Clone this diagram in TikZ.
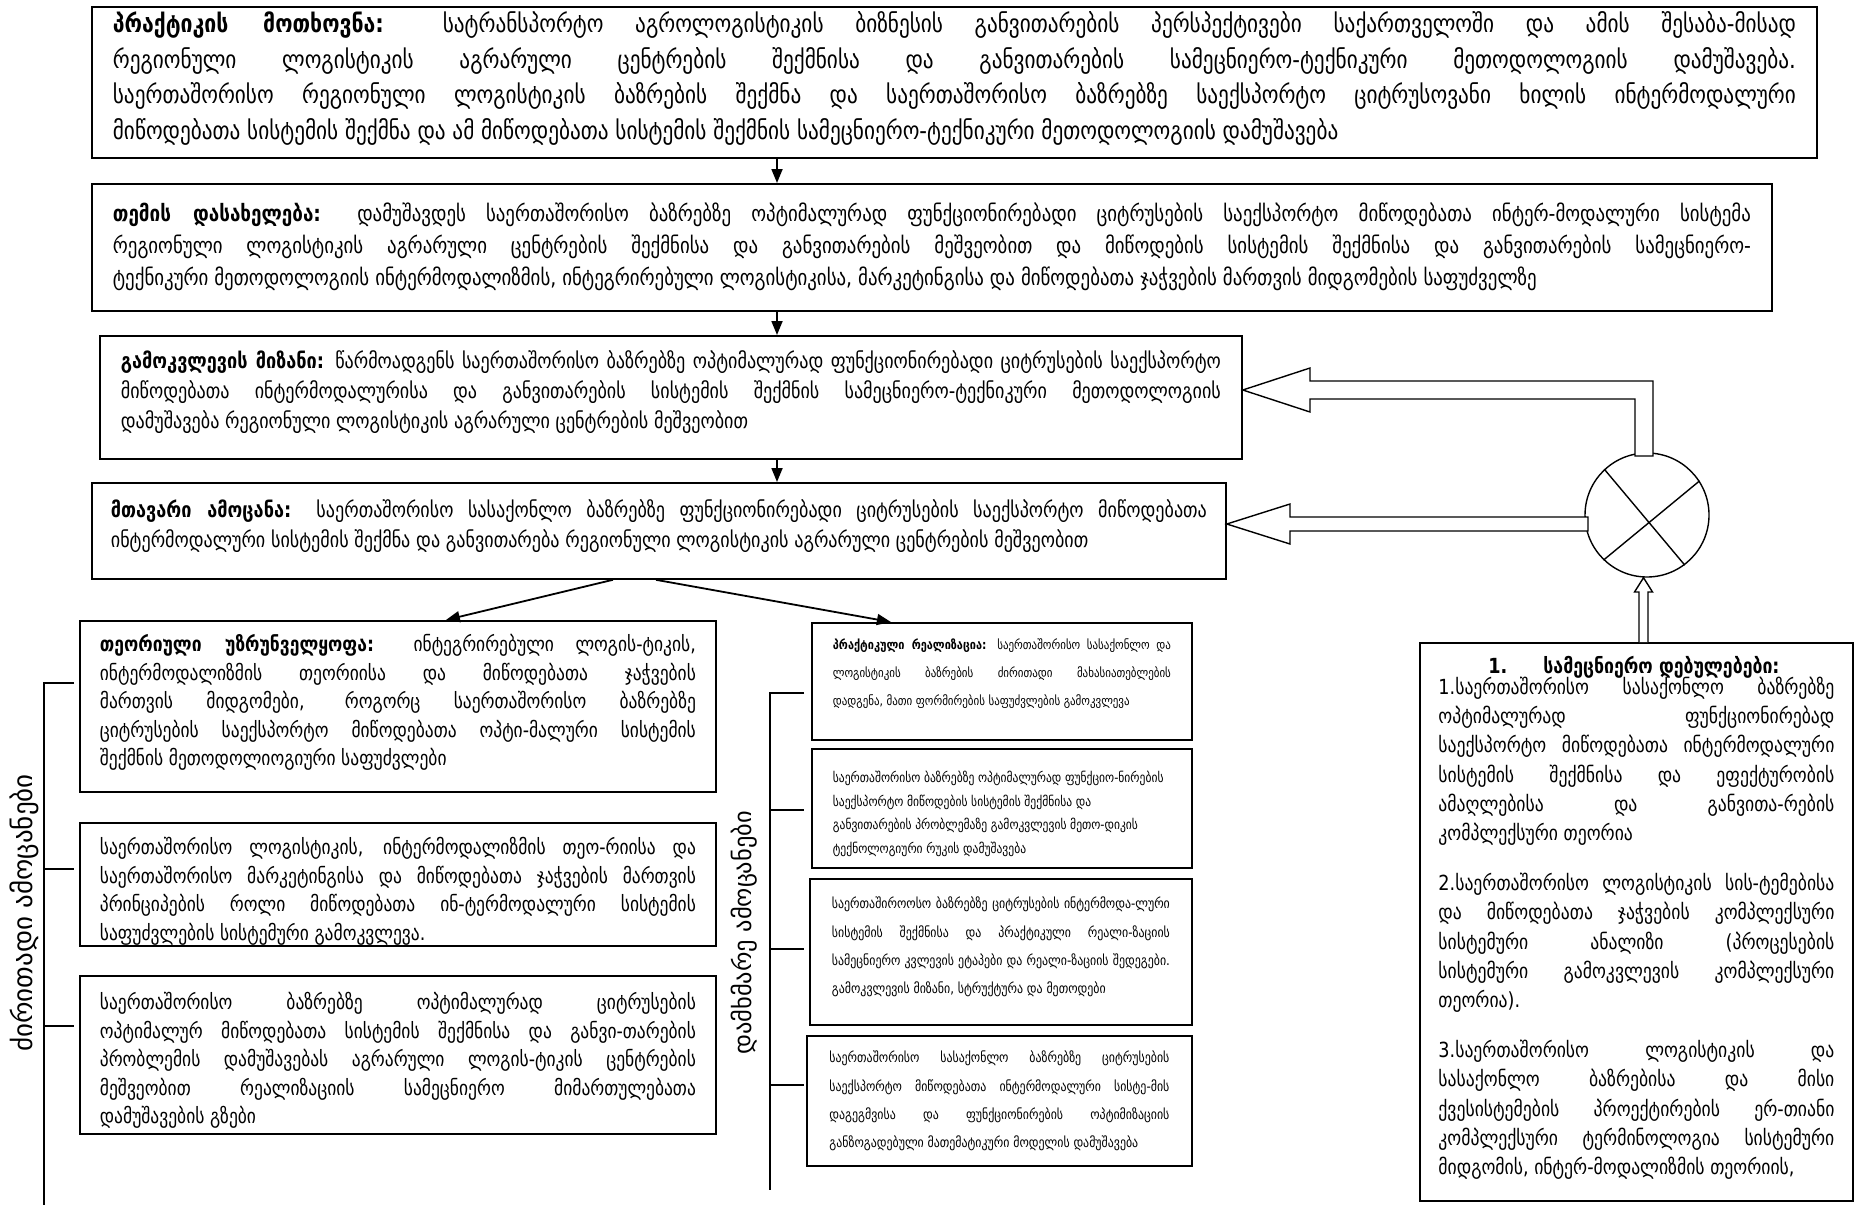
\documentclass[tikz,border=0pt]{standalone}
\usepackage{fontspec}
\setmainfont[FakeStretch=0.85]{DejaVu Sans}
\newfontfamily\sidefont{DejaVu Sans}
\usetikzlibrary{arrows.meta}

\tolerance=10000
\hbadness=10000
\vbadness=10000
\hyphenpenalty=10000
\exhyphenpenalty=10000

% text block of a frame: width, height, text
\newcommand{\boxtext}[3]{\parbox[c][#2][t]{#1}{#3}}
\newcommand{\fsA}{\fontsize{25}{35.5}\selectfont}
\newcommand{\fsB}{\fontsize{22.2}{32}\selectfont}
\newcommand{\fsC}{\fontsize{21.3}{30}\selectfont}
\newcommand{\fsL}{\fontsize{20.6}{28.5}\selectfont}
\newcommand{\fsM}{\fontsize{14}{28.3}\selectfont}
\newcommand{\fsR}{\fontsize{20.8}{29.2}\selectfont}

\begin{document}
\begin{tikzpicture}[x=1pt,y=-1pt,
  frame/.style={draw, line width=1.8pt, anchor=north west},
  arr/.style={line width=1.8pt, -{Triangle[length=14pt,width=11pt]}},
  pipe/.style={draw, line width=1.4pt, fill=white, line join=miter},
  bar/.style={line width=1.8pt}
]
\useasboundingbox (0,0) rectangle (1854,1205);

% main chain
\node[frame, inner xsep=21pt, inner ysep=1pt] (prak) at (91,6) {\boxtext{1683pt}{149pt}{\fsA\strut
\textbf{პრაქტიკის მოთხოვნა:} სატრანსპორტო აგროლოგისტიკის ბიზნესის განვითარების პერსპექტივები საქართველოში და ამის შესაბა-მისად\linebreak
რეგიონული ლოგისტიკის აგრარული ცენტრების შექმნისა და განვითარების სამეცნიერო-ტექნიკური მეთოდოლოგიის დამუშავება.\linebreak
საერთაშორისო რეგიონული ლოგისტიკის ბაზრების შექმნა და საერთაშორისო ბაზრებზე საექსპორტო ციტრუსოვანი ხილის ინტერმოდალური\linebreak
მიწოდებათა სისტემის შექმნა და ამ მიწოდებათა სისტემის შექმნის სამეცნიერო-ტექნიკური მეთოდოლოგიის დამუშავება}};

\node[frame, inner xsep=21pt, inner ysep=15pt] (tema) at (91,183) {\boxtext{1638pt}{97pt}{\fsB\strut
\textbf{თემის დასახელება:} დამუშავდეს საერთაშორისო ბაზრებზე ოპტიმალურად ფუნქციონირებადი ციტრუსების საექსპორტო მიწოდებათა ინტერ-მოდალური სისტემა\linebreak
რეგიონული ლოგისტიკის აგრარული ცენტრების შექმნისა და განვითარების მეშვეობით და მიწოდების სისტემის შექმნისა და განვითარების სამეცნიერო-\linebreak
ტექნიკური მეთოდოლოგიის ინტერმოდალიზმის, ინტეგრირებული ლოგისტიკისა, მარკეტინგისა და მიწოდებათა ჯაჭვების მართვის მიდგომების საფუძველზე}};

\node[frame, inner xsep=21pt, inner ysep=12pt] (mizani) at (99,335) {\boxtext{1100pt}{99pt}{\fsC\strut
\textbf{გამოკვლევის მიზანი:} წარმოადგენს საერთაშორისო ბაზრებზე ოპტიმალურად ფუნქციონირებადი ციტრუსების საექსპორტო\linebreak
მიწოდებათა ინტერმოდალურისა და განვითარების სისტემის შექმნის სამეცნიერო-ტექნიკური მეთოდოლოგიის\linebreak
დამუშავება რეგიონული ლოგისტიკის აგრარული ცენტრების მეშვეობით}};

\node[frame, inner xsep=19pt, inner ysep=14pt] (amocana) at (91,482) {\boxtext{1096pt}{68pt}{\fsC\strut
\textbf{მთავარი ამოცანა:} საერთაშორისო სასაქონლო ბაზრებზე ფუნქციონირებადი ციტრუსების საექსპორტო მიწოდებათა\linebreak
ინტერმოდალური სისტემის შექმნა და განვითარება რეგიონული ლოგისტიკის აგრარული ცენტრების მეშვეობით}};

\coordinate (spine) at (777,0);
\draw[arr] (prak.south -| spine) -- (tema.north -| spine);
\draw[arr] (tema.south -| spine) -- (mizani.north -| spine);
\draw[arr] (mizani.south -| spine) -- (amocana.north -| spine);

% main tasks
\node[frame, inner xsep=20pt, inner ysep=11pt] (teoria) at (79,620) {\boxtext{596pt}{149pt}{\fsL\strut
\textbf{თეორიული უზრუნველყოფა:} ინტეგრირებული ლოგის-ტიკის,\linebreak
ინტერმოდალიზმის თეორიისა და მიწოდებათა ჯაჭვების\linebreak
მართვის მიდგომები, როგორც საერთაშორისო ბაზრებზე\linebreak
ციტრუსების საექსპორტო მიწოდებათა ოპტი-მალური სისტემის\linebreak
შექმნის მეთოდოლიოგიური საფუძვლები}};

\node[frame, inner xsep=20pt, inner ysep=12pt] (lbox2) at (79,822) {\boxtext{596pt}{99pt}{\fsL\strut
საერთაშორისო ლოგისტიკის, ინტერმოდალიზმის თეო-რიისა და\linebreak
საერთაშორისო მარკეტინგისა და მიწოდებათა ჯაჭვების მართვის\linebreak
პრინციპების როლი მიწოდებათა ინ-ტერმოდალური სისტემის\linebreak
საფუძვლების სისტემური გამოკვლევა.}};

\node[frame, inner xsep=20pt, inner ysep=14pt] (lbox3) at (79,975) {\boxtext{596pt}{130pt}{\fsL\strut
საერთაშორისო ბაზრებზე ოპტიმალურად ციტრუსების\linebreak
ოპტიმალურ მიწოდებათა სისტემის შექმნისა და განვი-თარების\linebreak
პრობლემის დამუშავებას აგრარული ლოგის-ტიკის ცენტრების\linebreak
მეშვეობით რეალიზაციის სამეცნიერო მიმართულებათა\linebreak
დამუშავების გზები}};

% auxiliary tasks
\node[frame, inner xsep=21pt, inner ysep=7pt] (praqt) at (811,622) {\boxtext{338pt}{103pt}{\fontsize{12.9}{28}\selectfont\strut
\textbf{პრაქტიკული რეალიზაცია:} საერთაშორისო სასაქონლო და\linebreak
ლოგისტიკის ბაზრების ძირითადი მახასიათებლების\linebreak
დადგენა, მათი ფორმირების საფუძვლების გამოკვლევა}};

\node[frame, inner xsep=21pt, inner ysep=17pt] (mbox2) at (811,748) {\boxtext{338pt}{85pt}{\fontsize{13.6}{23.6}\selectfont\raggedright\strut
საერთაშორისო ბაზრებზე ოპტიმალურად ფუნქციო-ნირების\\
საექსპორტო მიწოდების სისტემის შექმნისა და\\
განვითარების პრობლემაზე გამოკვლევის მეთო-დიკის\\
ტექნოლოგიური რუკის დამუშავება}};

\node[frame, inner xsep=22pt, inner ysep=10pt] (mbox3) at (809,878) {\boxtext{338pt}{126pt}{\fsM\strut
საერთაშიროოსო ბაზრებზე ციტრუსების ინტერმოდა-ლური\linebreak
სისტემის შექმნისა და პრაქტიკული რეალი-ზაციის\linebreak
სამეცნიერო კვლევის ეტაპები და რეალი-ზაციის შედეგები.\linebreak
გამოკვლევის მიზანი, სტრუქტურა და მეთოდები}};

\node[frame, inner xsep=22.5pt, inner ysep=7pt] (mbox4) at (806,1035) {\boxtext{340pt}{116pt}{\fsM\strut
საერთაშორისო სასაქონლო ბაზრებზე ციტრუსების\linebreak
საექსპორტო მიწოდებათა ინტერმოდალური სისტე-მის\linebreak
დაგეგმვისა და ფუნქციონირების ოპტიმიზაციის\linebreak
განზოგადებული მათემატიკური მოდელის დამუშავება}};

\draw[arr] ([xshift=-46pt]amocana.south) -- ([xshift=48pt]teoria.north);
\draw[arr] ([xshift=-3pt]amocana.south) -- ([xshift=-111pt]praqt.north);

% brackets
\draw[bar] (74,683) -| (44,1205);
\draw[bar] (44,869) -- (74,869);
\draw[bar] (44,1026) -- (74,1026);
\draw[bar] (804,693) -| (770,1190);
\draw[bar] (770,810) -- (804,810);
\draw[bar] (770,949) -- (804,949);
\draw[bar] (770,1085) -- (804,1085);

\node[rotate=90, font=\sidefont\fontsize{27}{30}\selectfont] (mainlab) at (24,913) {ძირითადი ამოცანები};
\node[rotate=90, font=\sidefont\fontsize{24.4}{28}\selectfont] (auxlab) at (744,933) {დამხმარე ამოცანები};

% scientific statements
\node[frame, inner xsep=18.5pt, inner ysep=10pt] (debul) at (1419,642) {\boxtext{396pt}{538pt}{\fsR\strut
\hspace*{50pt}\textbf{1.\hspace{36pt}სამეცნიერო დებულებები:}\par\vspace{-8pt}
1.საერთაშორისო სასაქონლო ბაზრებზე\linebreak
ოპტიმალურად ფუნქციონირებად\linebreak
საექსპორტო მიწოდებათა ინტერმოდალური\linebreak
სისტემის შექმნისა და ეფექტურობის\linebreak
ამაღლებისა და განვითა-რების\linebreak
კომპლექსური თეორია\par\vspace{21pt}
2.საერთაშორისო ლოგისტიკის სის-ტემებისა\linebreak
და მიწოდებათა ჯაჭვების კომპლექსური\linebreak
სისტემური ანალიზი (პროცესების\linebreak
სისტემური გამოკვლევის კომპლექსური\linebreak
თეორია).\par\vspace{21pt}
3.საერთაშორისო ლოგისტიკის და\linebreak
სასაქონლო ბაზრებისა და მისი\linebreak
ქვესისტემების პროექტირების ერ-თიანი\linebreak
კომპლექსური ტერმინოლოგია სისტემური\linebreak
მიდგომის, ინტერ-მოდალიზმის თეორიის,}};

% mixing node and hollow arrows
\node[circle, draw, line width=1.4pt, minimum size=124pt, inner sep=0pt] (mix) at (1647,515) {};
\draw[line width=1.4pt] (mix.133) -- (mix.-53) (mix.33) -- (mix.226);

\draw[pipe] (1635,456) -- (1635,399) -- (1310,399) -- (1310,412) -- (mizani.east |- 0,390)
  -- (1310,368) -- (1310,381) -- (1653,381) -- (1653,456) -- cycle;
\draw[pipe] (1588,531) -- (1290,531) -- (1290,544) -- (amocana.east |- 0,524)
  -- (1290,504) -- (1290,517) -- (1588,517) -- cycle;
\draw[pipe] (debul.north -| 1639,0) -- (1639,592) -- (1634.5,592) -- (mix.south -| 1643.5,0)
  -- (1652.5,592) -- (1648,592) -- (debul.north -| 1648,0);
\end{tikzpicture}
\end{document}
